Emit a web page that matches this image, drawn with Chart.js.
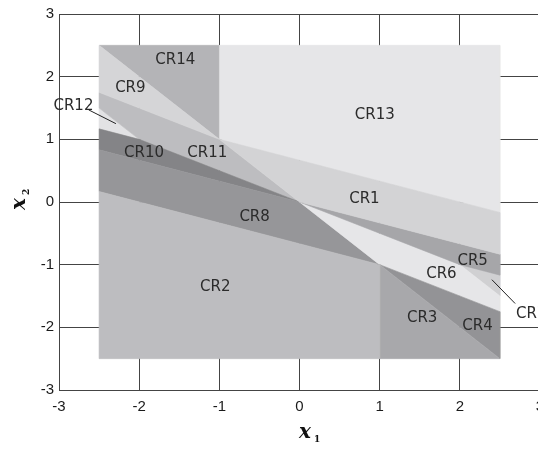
<!DOCTYPE html>
<html>
<head>
<meta charset="utf-8">
<script src="https://cdn.jsdelivr.net/npm/chart.js@4.4.0/dist/chart.umd.min.js"></script>
<style>
  html, body { margin: 0; padding: 0; overflow: hidden; background: #fff; }
  #wrap { width: 600px; height: 450px; }
</style>
</head>
<body>
<div id="wrap"><canvas id="regions" width="600" height="450"></canvas></div>
<script>
// vertices of each critical region in the (x1, x2) plane
const CR1  = [[2.5, -0.833], [0, 0], [-1, 1], [2.5, -0.167]];
const CR2  = [[-2.5, 0.167], [1, -1], [1, -2.5], [-2.5, -2.5]];
const CR3  = [[1, -1], [2.5, -2.5], [1, -2.5]];
const CR4  = [[1, -1], [2.5, -1.75], [2.5, -2.5]];
const CR5  = [[0, 0], [2.5, -0.833], [2.5, -1.167], [2, -1]];
const CR6  = [[0, 0], [2, -1], [2.5, -1.5], [2.5, -1.75], [1, -1]];
const CR7  = [[2, -1], [2.5, -1.167], [2.5, -1.5]];
const CR8  = [[-2.5, 0.833], [0, 0], [1, -1], [-2.5, 0.167]];
const CR9  = [[-2.5, 2.5], [-1, 1], [-2.5, 1.75]];
const CR10 = [[-2.5, 1.167], [-2, 1], [0, 0], [-2.5, 0.833]];
const CR11 = [[-2.5, 1.75], [-1, 1], [0, 0], [-2, 1], [-2.5, 1.5]];
const CR12 = [[-2.5, 1.5], [-2, 1], [-2.5, 1.167]];
const CR13 = [[-1, 1], [-1, 2.5], [2.5, 2.5], [2.5, -0.167]];
const CR14 = [[-2.5, 2.5], [-1, 2.5], [-1, 1]];

const regionNames = ['CR1', 'CR2', 'CR3', 'CR4', 'CR5', 'CR6', 'CR7',
                     'CR8', 'CR9', 'CR10', 'CR11', 'CR12', 'CR13', 'CR14'];
const regionShapes = [CR1, CR2, CR3, CR4, CR5, CR6, CR7,
                      CR8, CR9, CR10, CR11, CR12, CR13, CR14];

// where each region name is written (data units)
const labelSpots = [[0.81, 0.07], [-1.05, -1.34], [1.53, -1.82], [2.22, -1.95],
                    [2.16, -0.92], [1.77, -1.12], [2.89, -1.76], [-0.56, -0.21],
                    [-2.11, 1.85], [-1.94, 0.81], [-1.15, 0.81], [-2.82, 1.56],
                    [0.94, 1.41], [-1.55, 2.29]];

// leader lines for the names written outside their region
const leaders = [
  [[-2.63, 1.47], [-2.29, 1.25]],
  [[2.40, -1.24], [2.69, -1.62]]
];

const xTicks = [-3, -2, -1, 0, 1, 2, 3];
const yTicks = [-3, -2, -1, 0, 1, 2, 3];

const regionFills = ['#d3d3d5', '#bdbdc0', '#a8a8ab', '#939396', '#a6a6a9', '#e6e6e8', '#d0d0d2',
                     '#969699', '#d5d5d7', '#848487', '#bdbdc0', '#e2e2e4', '#e6e6e8', '#b4b4b7'];

const tickFont = { family: '"Liberation Sans", Arial, sans-serif', size: 15 };

const regionLabels = {
  id: 'regionLabels',
  afterDatasetsDraw(chart) {
    const { ctx } = chart;
    const sx = chart.scales.x, sy = chart.scales.y;
    ctx.save();

    ctx.fillStyle = '#2b2b2b';
    ctx.font = '15px "DejaVu Sans"';
    ctx.textAlign = 'center';
    ctx.textBaseline = 'alphabetic';
    regionNames.forEach((name, i) => {
      const [vx, vy] = labelSpots[i];
      ctx.fillText(name, sx.getPixelForValue(vx), sy.getPixelForValue(vy) + 5.5);
    });

    ctx.strokeStyle = '#222';
    ctx.lineWidth = 1;
    leaders.forEach(([a, b]) => {
      ctx.beginPath();
      ctx.moveTo(sx.getPixelForValue(a[0]), sy.getPixelForValue(a[1]));
      ctx.lineTo(sx.getPixelForValue(b[0]), sy.getPixelForValue(b[1]));
      ctx.stroke();
    });

    // axis titles: bold italic x with a small subscript
    const drawVar = (sub) => {
      ctx.font = 'italic bold 20px "DejaVu Serif"';
      ctx.textAlign = 'left';
      ctx.fillText('x', 0, 0);
      ctx.font = 'bold 9px "DejaVu Serif"';
      ctx.fillText(sub, 15, 3.5);
    };
    ctx.fillStyle = '#111';
    ctx.save();
    ctx.translate(299, 438);
    drawVar('1');
    ctx.restore();
    ctx.save();
    ctx.translate(25, 210);
    ctx.rotate(-Math.PI / 2);
    drawVar('2');
    ctx.restore();

    ctx.restore();
  }
};

new Chart(document.getElementById('regions'), {
  type: 'scatter',
  data: {
    datasets: regionShapes.map((pts, i) => ({
      label: regionNames[i],
      data: pts.concat([pts[0]]).map(([x, y]) => ({ x, y })),
      showLine: true,
      fill: 'shape',
      backgroundColor: regionFills[i],
      borderColor: regionFills[i],
      borderWidth: 0.6,
      pointRadius: 0,
      tension: 0
    }))
  },
  options: {
    responsive: false,
    animation: false,
    devicePixelRatio: 1,
    layout: { padding: { left: 0, right: 60, top: 10, bottom: 0 } },
    plugins: { legend: { display: false }, tooltip: { enabled: false } },
    scales: {
      x: {
        type: 'linear', min: -3, max: 3,
        afterBuildTicks: s => { s.ticks = xTicks.map(v => ({ value: v })); },
        afterFit: s => { s.height = 60; },
        grid: { color: '#444', drawTicks: false },
        border: { color: '#444' },
        ticks: { padding: 8, color: '#1a1a1a', font: tickFont }
      },
      y: {
        type: 'linear', min: -3, max: 3,
        afterBuildTicks: s => { s.ticks = yTicks.map(v => ({ value: v })); },
        afterFit: s => { s.width = 59; },
        grid: { color: '#444', drawTicks: false },
        border: { color: '#444' },
        ticks: { padding: 5, color: '#1a1a1a', font: tickFont }
      }
    }
  },
  plugins: [regionLabels]
});
</script>
</body>
</html>
